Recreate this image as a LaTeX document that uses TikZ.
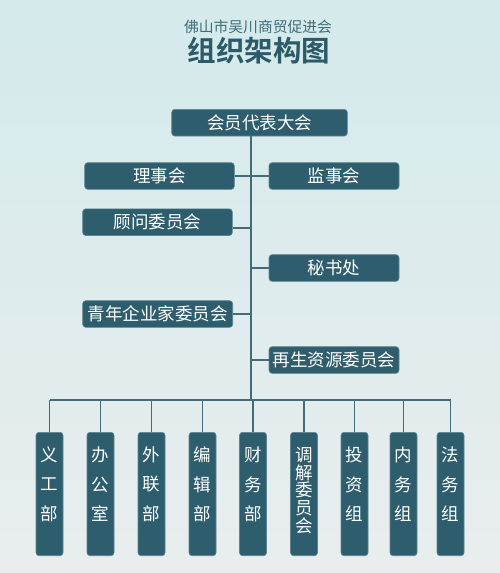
\documentclass[tikz,border=0pt]{standalone}
\usepackage{fontspec}
\newfontfamily\cjk{Noto Sans CJK SC}[BoldFont={Noto Sans CJK SC Bold}]
\definecolor{bgtop}{HTML}{D4EAEB}
\definecolor{bgbot}{HTML}{E9EDEE}
\definecolor{boxfill}{HTML}{2E5E6D}
\definecolor{boxedge}{HTML}{5C8592}
\definecolor{linec}{HTML}{416D7A}
\definecolor{titlec}{HTML}{2B5A69}
\definecolor{subc}{HTML}{3F6C79}
\tikzset{
  orgbox/.style={fill=boxfill, draw=boxedge, line width=0.6pt, rounded corners=3pt, inner sep=0pt,
    text=white, font=\cjk\fontsize{17.5}{20}\selectfont, minimum height=26.6pt},
  colbox/.style={fill=boxfill, draw=boxedge, line width=0.6pt, rounded corners=3pt, inner sep=0pt,
    minimum width=27pt, minimum height=123.4pt},
  colchar/.style={text=white, font=\cjk\fontsize{17.5}{20}\selectfont, inner sep=0pt},
  link/.style={draw=linec, line width=1.7pt}
}
\begin{document}
\begin{tikzpicture}[x=1pt,y=-1pt]
\shade[top color=bgtop, bottom color=bgbot] (0,0) rectangle (500,573);
\useasboundingbox (0,0) rectangle (500,573);
% titles
\node[text=subc, font=\cjk\fontsize{14.8}{16}\selectfont, inner sep=0pt] (sub) at (258,26.7) {佛山市吴川商贸促进会};
\node[text=titlec, font=\cjk\bfseries\fontsize{28.5}{30}\selectfont, inner sep=0pt] (title) at (259,50.5) {组织架构图};
% upper boxes
\node[orgbox, minimum width=175.6pt] (top) at (259.5,122.7) {会员代表大会};
\node[orgbox, minimum width=149.6pt] (lsh) at (159.5,176) {理事会};
\node[orgbox, minimum width=130pt] (jsh) at (334,176) {监事会};
\node[orgbox, minimum width=149.6pt] (gw) at (157.5,222.2) {顾问委员会};
\node[orgbox, minimum width=130pt] (msc) at (334,268) {秘书处};
\node[orgbox, minimum width=150pt] (qn) at (157.7,314) {青年企业家委员会};
\node[orgbox, minimum width=130pt] (zs) at (334,360) {再生资源委员会};
% spine and bus
\coordinate (sptop) at (251,136);
\coordinate (spbot) at (251,400.3);
\coordinate (busl) at (49.5,400.3);
\coordinate (busr) at (451,400.3);
% bottom boxes
\foreach \n/\x/\sp/\chars in {
  b1/49.5/29.5/{义,工,部},
  b2/100.5/29.5/{办,公,室},
  b3/151.5/29.5/{外,联,部},
  b4/202.5/29.5/{编,辑,部},
  b5/253/29.5/{财,务,部},
  b6/304/17.6/{调,解,委,员,会},
  b7/354.5/29.5/{投,资,组},
  b8/403.5/29.5/{内,务,组},
  b9/450.5/29.5/{法,务,组}} {
  \node[colbox] (\n) at (\x,494) {};
  \foreach \c [count=\i] in \chars {
    \node[colchar] (\n-\i) at (\x,{455+(\i-1)*\sp}) {\c};
  }
  \draw[link] (\n.north) -- (\n.north |- busl);
}
% connectors
\draw[link] (sptop) -- (spbot);
\draw[link] (busl) -- (busr);
\draw[link] (lsh.east) -- (jsh.west);
\draw[link] ([yshift=-6pt]gw.east) -- ([yshift=-6pt]gw.east -| sptop);
\draw[link] (msc.west) -- (msc.west -| sptop);
\draw[link] (qn.east) -- (qn.east -| sptop);
\draw[link] (zs.west) -- (zs.west -| sptop);
\end{tikzpicture}
\end{document}
